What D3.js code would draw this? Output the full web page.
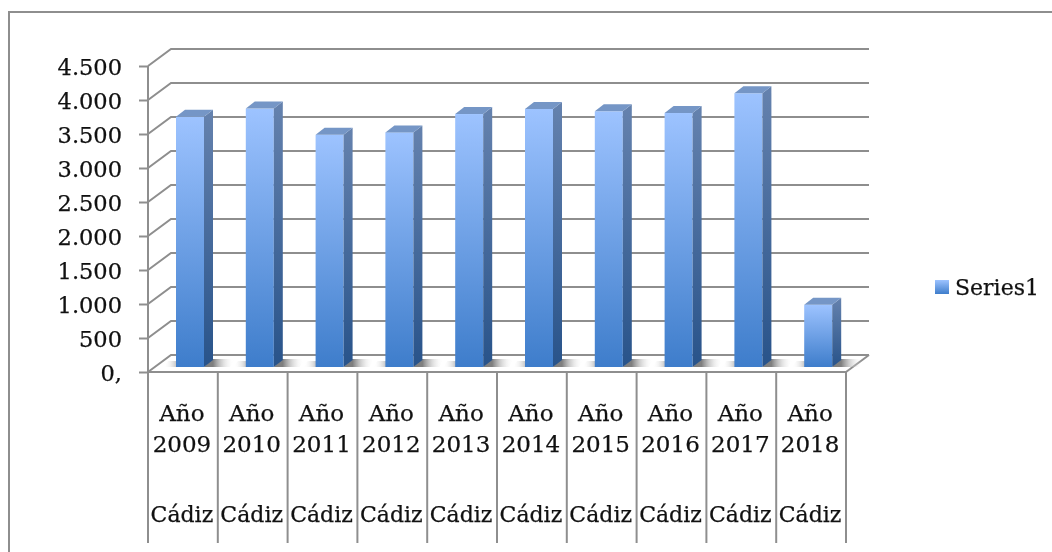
<!DOCTYPE html>
<html>
<head>
<meta charset="utf-8">
<script src="https://cdn.jsdelivr.net/npm/d3@7"></script>
<style>
  html, body { margin: 0; padding: 0; background: #fff; }
  svg { display: block; filter: blur(0.45px); }
  text { font-family: "DejaVu Serif", serif; fill: #111; stroke: #111; stroke-width: 0.25px; }
</style>
</head>
<body>
<div id="visualization"></div>
<script>
const years = ['Año 2009', 'Año 2010', 'Año 2011', 'Año 2012', 'Año 2013', 'Año 2014', 'Año 2015', 'Año 2016', 'Año 2017', 'Año 2018'];
const province = 'Cádiz';
const values = [3680, 3800, 3415, 3450, 3720, 3795, 3760, 3735, 4025, 915];
const yTicks = [0, 500, 1000, 1500, 2000, 2500, 3000, 3500, 4000, 4500];
const yTickLabels = ['0,', '500', '1.000', '1.500', '2.000', '2.500', '3.000', '3.500', '4.000', '4.500'];
const seriesName = 'Series1';

const svgWidth = 1052, svgHeight = 552;
const depthX = 23, depthY = 17;
const fontSize = 23;
const gridColor = '#8e8e8e';

const svg = d3.select('#visualization')
    .append('svg')
    .attr('width', svgWidth)
    .attr('height', svgHeight);

const defs = svg.append('defs');

function addGradient(id, top, bottom) {
    const g = defs.append('linearGradient')
        .attr('id', id)
        .attr('x1', 0).attr('y1', 0).attr('x2', 0).attr('y2', 1);
    g.append('stop').attr('offset', '0%').attr('stop-color', top);
    g.append('stop').attr('offset', '100%').attr('stop-color', bottom);
}
addGradient('barFront', '#9dc3ff', '#3e7dcb');
addGradient('barSide', '#6582ae', '#28538a');
addGradient('legendSwatch', '#9dc3ff', '#3e7dcb');

const shadow = defs.append('linearGradient').attr('id', 'barShadow');
shadow.append('stop').attr('offset', '30%').attr('stop-color', '#7f7f7f');
shadow.append('stop').attr('offset', '100%').attr('stop-color', '#ffffff').attr('stop-opacity', 0);

const shadowLeft = defs.append('linearGradient').attr('id', 'barShadowLeft');
shadowLeft.append('stop').attr('offset', '0%').attr('stop-color', '#ffffff').attr('stop-opacity', 0);
shadowLeft.append('stop').attr('offset', '100%').attr('stop-color', '#b5b5b5');

const xScale = d3.scaleBand().domain(years).range([148, 846]);
const yScale = d3.scaleLinear().domain([0, 4500]).range([372, 66]);

// chart frame, only top and left show in the crop
svg.append('path')
    .attr('d', `M9,${svgHeight}V12H${svgWidth}`)
    .attr('fill', 'none')
    .attr('stroke', gridColor)
    .attr('stroke-width', 2);

// back wall grid and side wall lines
const grid = svg.append('g')
    .attr('fill', 'none')
    .attr('stroke', gridColor)
    .attr('stroke-width', 2);

yTicks.forEach(t => {
    const y = yScale(t);
    grid.append('path')
        .attr('d', `M148,${y}L${148 + depthX},${y - depthY}H${846 + depthX}`);
});
grid.append('path').attr('d', `M148,${yScale(0)}V${yScale(4500)}`);
grid.append('path')
    .attr('d', `M846,${yScale(0)}L${846 + depthX},${yScale(0) - depthY}`);

// bars
const barInset = 28, barWidth = 28, barDx = 9, barDy = 7, baseLift = 5;

const bars = svg.append('g')
    .selectAll('g')
    .data(years.map((d, i) => ({year: d, value: values[i]})))
    .enter()
    .append('g');

// floor shadows either side of each bar
bars.append('polygon')
    .attr('points', d => {
        const x1 = xScale(d.year) + barInset + barWidth;
        const y0 = yScale(0) - baseLift;
        return `${x1},${y0} ${x1 + 26},${y0} ${x1 + 30},${y0 - 8} ${x1 + 8},${y0 - 8}`;
    })
    .attr('fill', 'url(#barShadow)');

bars.append('polygon')
    .attr('points', d => {
        const x0 = xScale(d.year) + barInset;
        const y0 = yScale(0) - baseLift;
        return `${x0 - 12},${y0} ${x0 + 2},${y0} ${x0 + 2},${y0 - 6} ${x0 - 8},${y0 - 6}`;
    })
    .attr('fill', 'url(#barShadowLeft)');

bars.append('rect')
    .attr('x', d => xScale(d.year) + barInset)
    .attr('y', d => yScale(d.value) - baseLift)
    .attr('width', barWidth)
    .attr('height', d => yScale(0) - yScale(d.value))
    .attr('fill', 'url(#barFront)');

bars.append('polygon')
    .attr('points', d => {
        const x1 = xScale(d.year) + barInset + barWidth;
        const top = yScale(d.value) - baseLift;
        const bottom = yScale(0) - baseLift;
        return `${x1},${top} ${x1 + barDx},${top - barDy} ${x1 + barDx},${bottom - barDy} ${x1},${bottom}`;
    })
    .attr('fill', 'url(#barSide)');

bars.append('polygon')
    .attr('points', d => {
        const x0 = xScale(d.year) + barInset;
        const top = yScale(d.value) - baseLift;
        return `${x0},${top} ${x0 + barDx},${top - barDy} ${x0 + barWidth + barDx},${top - barDy} ${x0 + barWidth},${top}`;
    })
    .attr('fill', '#7596c6');

// floor front edge
svg.append('line')
    .attr('x1', 148).attr('x2', 846)
    .attr('y1', yScale(0)).attr('y2', yScale(0))
    .attr('stroke', gridColor)
    .attr('stroke-width', 2);

// y axis
const yAxis = svg.append('g')
    .attr('transform', 'translate(148,0)')
    .call(d3.axisLeft(yScale)
        .tickValues(yTicks)
        .tickFormat((d, i) => yTickLabels[i])
        .tickSize(9)
        .tickPadding(17));
yAxis.select('.domain').remove();
yAxis.selectAll('line').attr('stroke', gridColor).attr('stroke-width', 2);
yAxis.selectAll('text')
    .attr('font-size', fontSize - 0.5)
    .attr('font-family', '"DejaVu Serif", serif')
    .attr('dy', '0.38em');

// category separators
svg.append('g')
    .selectAll('line')
    .data(d3.range(years.length + 1))
    .enter()
    .append('line')
    .attr('x1', i => 148 + i * xScale.step())
    .attr('x2', i => 148 + i * xScale.step())
    .attr('y1', yScale(0))
    .attr('y2', 543)
    .attr('stroke', gridColor)
    .attr('stroke-width', 2);

// category labels: two lines for the year, one for the province
const labels = svg.append('g')
    .attr('text-anchor', 'middle')
    .attr('font-size', fontSize)
    .selectAll('g')
    .data(years)
    .enter()
    .append('g')
    .attr('transform', d => `translate(${xScale(d) + xScale.bandwidth() / 2 - 1},0)`);

labels.append('text').attr('y', 421).text(d => d.split(' ')[0]);
labels.append('text').attr('y', 452).text(d => d.split(' ')[1]);
labels.append('text').attr('y', 522).attr('font-size', fontSize - 1).text(province);

// legend
svg.append('rect')
    .attr('x', 935).attr('y', 280)
    .attr('width', 14).attr('height', 14)
    .attr('fill', 'url(#legendSwatch)');
svg.append('text')
    .attr('x', 955).attr('y', 295)
    .attr('font-size', fontSize - 1)
    .text(seriesName);
</script>
</body>
</html>
